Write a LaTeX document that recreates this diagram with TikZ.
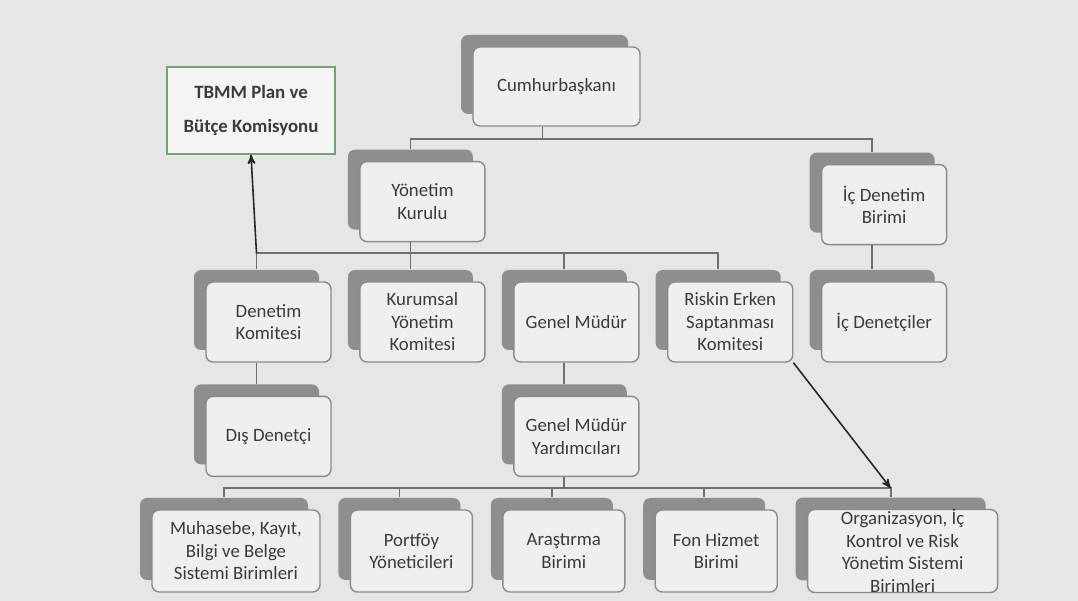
\documentclass[tikz,border=0pt]{standalone}
\usepackage{fontspec}
\setmainfont{Carlito}
\usetikzlibrary{positioning,shadows,arrows}
\definecolor{bggray}{HTML}{E6E6E6}
\definecolor{frontgray}{HTML}{EFEFEF}
\definecolor{backgray}{HTML}{8E8E8E}
\definecolor{edgegray}{HTML}{8A8A8A}
\definecolor{linegray}{HTML}{6E6E6E}
\definecolor{textgray}{HTML}{3A3A3A}
\definecolor{boxgreen}{HTML}{6FA56F}

\begin{document}
\begin{tikzpicture}[>=stealth',node distance=0.55cm,
  unit/.style={draw=edgegray,line width=0.8pt,fill=frontgray,rounded corners=4pt,
    align=center,minimum width=2.5cm,minimum height=1.6cm,inner sep=1pt,
    text=textgray,font=\fontsize{10.7}{12.8}\selectfont,
    copy shadow={shadow xshift=-0.24cm,shadow yshift=0.24cm,opacity=1,fill=backgray,draw=none}},
  conn/.style={draw=linegray,line width=1pt},
  link/.style={->,draw=black!85,line width=0.9pt}]
\fill[bggray] (0,0) rectangle (21.56,-12.02);

\node[draw=boxgreen,fill=white!55!bggray,line width=0.8pt,minimum width=3.36cm,minimum height=1.74cm,
  align=center,text=textgray,font=\fontsize{10.7}{12.8}\selectfont\bfseries] (tbmm) at (5.02,-2.21)
  {TBMM Plan ve\\[6pt]Bütçe Komisyonu};
\node[unit,minimum width=3.34cm,minimum height=1.58cm] (cb) at (11.13,-1.73) {Cumhurbaşkanı};

% second row
\node[unit] (dk) at (5.37,-6.44) {Denetim\\Komitesi};
\node[unit,right=of dk] (kyk) {Kurumsal\\Yönetim\\Komitesi};
\node[unit,right=of kyk] (gm) {Genel Müdür};
\node[unit,right=of gm] (rek) {Riskin Erken\\Saptanması\\Komitesi};
\node[unit,right=of rek] (icd) {İç Denetçiler};
\node[unit,above=0.78cm of kyk] (yk) {Yönetim\\Kurulu};
\node[unit,above=0.72cm of icd] (icdb) {İç Denetim\\Birimi};
\node[unit,below=0.66cm of dk] (dd) {Dış Denetçi};
\node[unit,below=0.66cm of gm] (gmy) {Genel Müdür\\Yardımcıları};

% bottom row
\node[unit,minimum width=3.36cm,minimum height=1.64cm] (muh) at (4.72,-11.02) {Muhasebe, Kayıt,\\Bilgi ve Belge\\Sistemi Birimleri};
\node[unit,minimum width=2.44cm,minimum height=1.64cm,right=0.58cm of muh] (port) {Portföy\\Yöneticileri};
\node[unit,minimum width=2.44cm,minimum height=1.64cm,right=0.58cm of port] (aras) {Araştırma\\Birimi};
\node[unit,minimum width=2.44cm,minimum height=1.64cm,right=0.58cm of aras] (fon) {Fon Hizmet\\Birimi};
\node[unit,minimum width=3.8cm,minimum height=1.64cm,inner sep=0pt,right=0.58cm of fon] (org) {Organizasyon, İç\\Kontrol ve Risk\\Yönetim Sistemi\\Birimleri};

\draw[conn] ([xshift=-0.28cm]cb.south) -- ++(0,-0.24) coordinate (b1);
\draw[conn] (b1) -| ([shift={(-0.24,0.24)}]yk.north);
\draw[conn] (b1) -| ([shift={(-0.24,0.24)}]icdb.north);

\draw[conn] ([xshift=-0.24cm]yk.south) -- ++(0,-0.22) coordinate (b2);
\draw[conn] (b2) -| coordinate[pos=0.5] (dkin) ([shift={(-0.24,0.24)}]dk.north);
\draw[conn] (b2) -| ([shift={(-0.24,0.24)}]kyk.north);
\draw[conn] (b2) -| ([shift={(-0.24,0.24)}]gm.north);
\draw[conn] (b2) -| ([shift={(-0.24,0.24)}]rek.north);

\draw[conn] ([xshift=-0.24cm]dk.south) -- ([shift={(-0.24,0.24)}]dd.north);
\draw[conn] ([xshift=-0.24cm]gm.south) -- ([shift={(-0.24,0.24)}]gmy.north);
\draw[conn] ([xshift=-0.24cm]icdb.south) -- ([shift={(-0.24,0.24)}]icd.north);

\draw[conn] ([xshift=-0.24cm]gmy.south) -- ++(0,-0.22) coordinate (b4);
\draw[conn] (b4) -| ([shift={(-0.24,0.24)}]muh.north);
\draw[conn] (b4) -| ([shift={(-0.24,0.24)}]port.north);
\draw[conn] (b4) -| ([shift={(-0.24,0.24)}]aras.north);
\draw[conn] (b4) -| ([shift={(-0.24,0.24)}]fon.north);
\draw[conn] (b4) -| coordinate[pos=0.5] (orgin) ([shift={(-0.24,0.24)}]org.north);

\draw[link] (dkin) -- (tbmm.south);
\draw[link] (rek.south east) -- (orgin);
\end{tikzpicture}
\end{document}
